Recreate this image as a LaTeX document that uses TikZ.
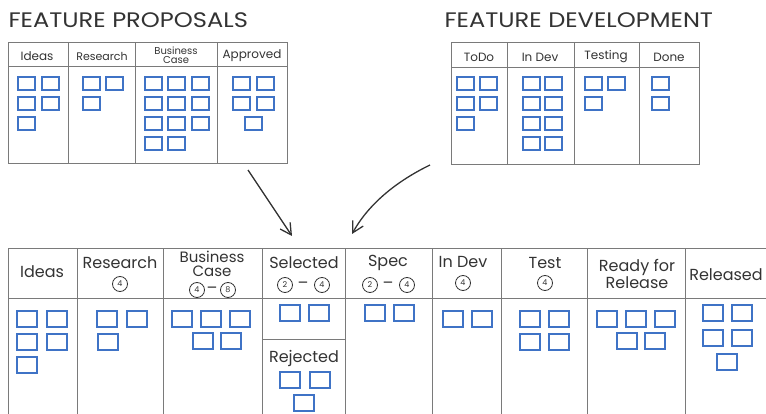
\documentclass[tikz,border=0pt]{standalone}
\usepackage{fontspec}
\setmainfont{Poppins}
\newfontfamily\titlefont{Poppins}[FakeStretch=1.15]
\usepackage{xcolor}
\usepackage{tikz}
\usetikzlibrary{arrows.meta}

\definecolor{ink}{HTML}{333333}
\definecolor{rule}{HTML}{7A7A7A}
\definecolor{cardblue}{HTML}{3F73C6}

\begin{document}
\begin{tikzpicture}[x=1pt,y=-1pt,
    board/.style={draw=rule, line width=1pt},
    card/.style={draw=cardblue, line width=1.4pt},
    title/.style={ink, anchor=west, font=\titlefont\fontsize{21}{21}\selectfont},
    small/.style={ink, align=center, font=\fontsize{12}{11}\selectfont},
    head/.style={ink, align=center, font=\fontsize{16}{13}\selectfont},
    wip/.style={circle, draw=ink, line width=0.8pt, inner sep=0pt, minimum size=15pt, ink, font=\fontsize{8}{8}\selectfont},
    flow/.style={draw=ink, line width=1.3pt, -{Straight Barb[length=11pt,width=12pt]}}]
    \useasboundingbox (0,0) rectangle (766,414);

    % Feature proposals board
    \node[title] (tProp) at (5,20) {FEATURE PROPOSALS};
    \draw[board] (8,43) rectangle (287,164);
    \draw[board] (8,67) -- (287,67);
    \foreach \x in {68,135,217} \draw[board] (\x,43) -- (\x,164);
    \node[small] (pIdeas) at (37,56) {Ideas};
    \node[small, font=\fontsize{11}{11}\selectfont] (pResearch) at (102,56) {Research};
    \node[small, font=\fontsize{10}{9.5}\selectfont] (pCase) at (176,55) {Business\\Case};
    \node[small] (pApproved) at (252,56) {Approved};
    \foreach \x/\y in {18/77,42/77,18/97,42/97,18/117,
                       83/77,106/77,83/97,
                       145/77,168/77,192/77,145/97,168/97,192/97,145/117,168/117,192/117,145/137,168/137,
                       233/77,257/77,233/97,257/97,245/117}
        \draw[card] (\x,\y) rectangle ++(17,13);

    % Feature development board
    \node[title] (tDev) at (441,20) {FEATURE DEVELOPMENT};
    \draw[board] (451,43) rectangle (699,165);
    \draw[board] (451,68) -- (699,68);
    \foreach \x in {507,574,639} \draw[board] (\x,43) -- (\x,165);
    \node[small] (dTodo) at (479,57) {ToDo};
    \node[small] (dInDev) at (540,57) {In Dev};
    \node[small] (dTesting) at (606,57) {Testing};
    \node[small] (dDone) at (669,57) {Done};
    \foreach \x/\y in {457/77,480/77,457/97,480/97,457/117,
                       523/77,545/77,523/97,545/97,523/117,545/117,523/137,545/137,
                       585/77,608/77,585/97,
                       652/77,652/97}
        \draw[card] (\x,\y) rectangle ++(17,13);

    % Arrows into the combined board
    \coordinate (fromProp) at (248,170);
    \coordinate (toSel) at (292,236);
    \coordinate (fromDev) at (430,165);
    \coordinate (toSpec) at (352,234);
    \draw[flow] (fromProp) -- (toSel);
    \draw[flow] (fromDev) .. controls (395,182) and (368,205) .. (toSpec);

    % Combined board
    \draw[board] (8,414) -- (8,249) -- (766,249);
    \draw[board] (8,298) -- (766,298);
    \foreach \x in {77,163,262,345,432,501,587,685} \draw[board] (\x,249) -- (\x,414);
    \draw[board] (262,339) -- (345,339);

    \node[head] (bIdeas) at (42,272) {Ideas};
    \node[head] (bResearch) at (120,263) {Research};
    \node[wip] (wResearch) at (120,284) {4};
    \node[head, font=\fontsize{15}{14}\selectfont] (bCase) at (212,264) {Business\\Case};
    \node[wip] (wCaseA) at (197,290) {4};
    \node[head] (dCase) at (212,290) {--};
    \node[wip] (wCaseB) at (228,290) {8};
    \node[head] (bSelected) at (304,263) {Selected};
    \node[wip] (wSelA) at (285,285) {2};
    \node[head] (dSel) at (303,285) {--};
    \node[wip] (wSelB) at (322,285) {4};
    \node[head] (bRejected) at (304,358) {Rejected};
    \node[head] (bSpec) at (388,263) {Spec};
    \node[wip] (wSpecA) at (370,285) {2};
    \node[head] (dSpec) at (388,285) {--};
    \node[wip] (wSpecB) at (407,285) {4};
    \node[head] (bInDev) at (463,262) {In Dev};
    \node[wip] (wInDev) at (463,283) {4};
    \node[head] (bTest) at (545,263) {Test};
    \node[wip] (wTest) at (545,283) {4};
    \node[head, font=\fontsize{16}{14}\selectfont] (bReady) at (637,274) {Ready for\\Release};
    \node[head] (bReleased) at (726,275) {Released};

    \foreach \x/\y in {17/311,47/311,17/334,47/334,17/357,
                       97/311,127/311,98/334,
                       172/311,201/311,230/311,193/333,221/333,
                       280/305,309/305,280/372,310/372,294/395,
                       365/305,394/305,
                       443/311,472/311,
                       520/311,549/311,520/334,549/334,
                       597/311,626/311,655/311,617/333,645/333,
                       703/305,732/305,703/330,732/330,717/354}
        \draw[card] (\x,\y) rectangle ++(20,16);
\end{tikzpicture}
\end{document}
